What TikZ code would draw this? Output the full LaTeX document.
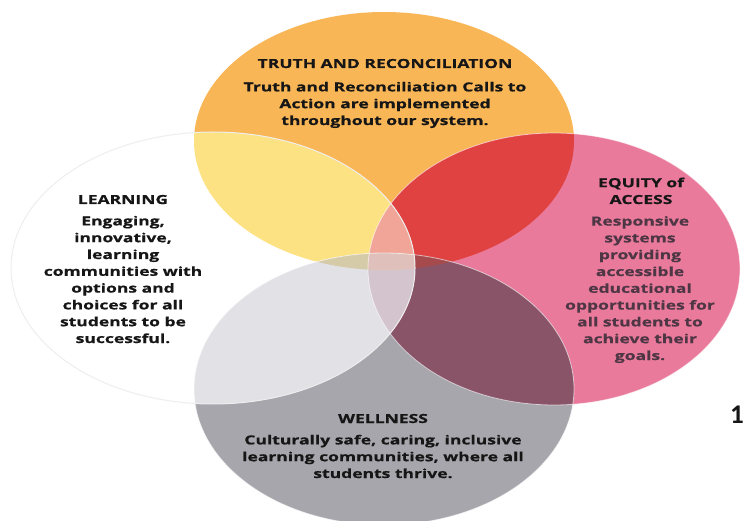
\documentclass[tikz,border=0pt]{standalone}
\usepackage{fontspec}
\newfontfamily\vennfont{Open Sans}[FakeStretch=1.4, BoldFeatures={FakeBold=0.6}]
\newfontfamily\pagefont{Carlito}
\definecolor{cO}{RGB}{249,182,86}
\definecolor{cP}{RGB}{233,122,155}
\definecolor{cG}{RGB}{166,166,172}
\definecolor{cOP}{RGB}{224,66,66}
\definecolor{cPG}{RGB}{138,84,104}
\definecolor{cOPG}{RGB}{165,75,78}
\definecolor{cWO}{RGB}{252,226,130}
\definecolor{cWG}{RGB}{225,225,230}
\definecolor{cWOP}{RGB}{240,165,152}
\definecolor{cWPG}{RGB}{212,196,206}
\definecolor{cWOG}{RGB}{214,203,168}
\definecolor{cWOPG}{RGB}{224,192,186}
\definecolor{cWedge}{RGB}{238,238,238}
\definecolor{txtdark}{RGB}{22,22,22}
\definecolor{txtmauve}{RGB}{78,54,68}
\def\ellO{(384,141) ellipse [x radius=190pt, y radius=129pt]}
\def\ellW{(213,268) ellipse [x radius=202pt, y radius=136pt]}
\def\ellP{(554,269) ellipse [x radius=186pt, y radius=136pt]}
\def\ellG{(384,389) ellipse [x radius=190pt, y radius=136pt]}
\begin{document}
\begin{tikzpicture}[x=1pt,y=-1pt,
  txt/.style={font=\vennfont\bfseries\fontsize{12.5}{16.8}\selectfont,
    align=center, inner sep=0pt, text=txtdark, anchor=base},
  edge/.style={draw=white, draw opacity=0.6, line width=0.8pt}]
\useasboundingbox[fill=white] (0,0) rectangle (744,521);
% base ellipses
\fill[cO] \ellO;
\fill[cP] \ellP;
\fill[cG] \ellG;
\begin{scope}\clip \ellO; \fill[cOP] \ellP; \end{scope}
\begin{scope}\clip \ellP; \fill[cPG] \ellG; \end{scope}
\begin{scope}\clip \ellO; \clip \ellP; \fill[cOPG] \ellG; \end{scope}
% translucent white ellipse
\fill[white] \ellW;
\begin{scope}\clip \ellW; \fill[cWO] \ellO; \fill[cWG] \ellG; \end{scope}
\begin{scope}\clip \ellW; \clip \ellP; \fill[cWOP] \ellO; \fill[cWPG] \ellG; \end{scope}
\begin{scope}\clip \ellW; \clip \ellO; \fill[cWOG] \ellG; \end{scope}
\begin{scope}\clip \ellW; \clip \ellO; \clip \ellP; \fill[cWOPG] \ellG; \end{scope}
% light edges
\draw[edge] \ellP;
\draw[edge] \ellG;
\draw[cWedge, line width=1pt] \ellW;
% texts (base anchor = baseline of the last line)
\node[txt] (trtitle) at (385,68) {TRUTH AND RECONCILIATION};
\node[txt] (trbody) at (385,125) {Truth and Reconciliation Calls to\\Action are implemented\\throughout our system.};
\node[txt] (letitle) at (123,204) {LEARNING};
\node[txt] (lebody) at (123,343) {Engaging,\\innovative,\\learning\\communities with\\options and\\choices for all\\students to be\\successful.};
\node[txt] (eqtitle) at (641,204) {EQUITY of\\ACCESS};
\node[txt, text=txtmauve] (eqbody) at (640,360) {Responsive\\systems\\providing\\accessible\\educational\\opportunities for\\all students to\\achieve their\\goals.};
\node[txt] (wetitle) at (383,423) {WELLNESS};
\node[txt] (webody) at (383,478) {Culturally safe, caring, inclusive\\learning communities, where all\\students thrive.};
\node[font=\pagefont\bfseries\fontsize{27}{27}\selectfont, text=txtdark, anchor=base, inner sep=0pt] (pagenum) at (737,423) {1};
\end{tikzpicture}
\end{document}
